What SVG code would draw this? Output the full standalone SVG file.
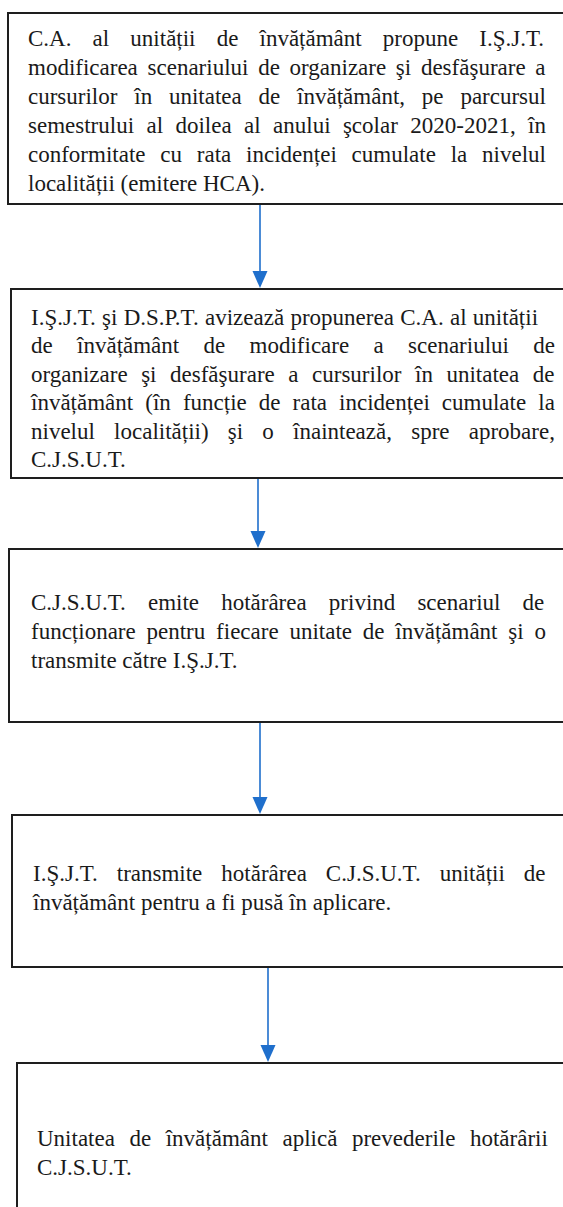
<svg xmlns="http://www.w3.org/2000/svg" width="563" height="1207" viewBox="0 0 563 1207">
<style>
.box{fill:#ffffff;stroke:#1e1e1e;stroke-width:2}
.t{font-family:"Liberation Serif","Times New Roman",serif;font-size:23px;fill:#1a1a1a}
.con{stroke:#1f6fcc;stroke-width:1.6;fill:none}
.head{fill:#1f6fcc}
</style>
<rect width="563" height="1207" fill="#ffffff"/>
<g id="connectors">
<line class="con" x1="260" y1="205" x2="260" y2="272"/>
<path class="head" d="M252.5,271 L267.5,271 L260,288 Z"/>
<line class="con" x1="258" y1="479" x2="258" y2="532"/>
<path class="head" d="M250.5,531 L265.5,531 L258,548 Z"/>
<line class="con" x1="260" y1="723" x2="260" y2="798"/>
<path class="head" d="M252.5,797 L267.5,797 L260,814 Z"/>
<line class="con" x1="268" y1="968" x2="268" y2="1046"/>
<path class="head" d="M260.5,1045 L275.5,1045 L268,1062 Z"/>
</g>
<g id="node1">
<rect class="box" x="8" y="13" width="570" height="191"/>
<text class="t">
<tspan x="28" y="46" word-spacing="15.4">C.A. al unității de învățământ propune I.Ş.J.T.</tspan>
<tspan x="28" y="75" word-spacing="3.95">modificarea scenariului de organizare şi desfăşurare a</tspan>
<tspan x="28" y="104" word-spacing="11.07">cursurilor în unitatea de învățământ, pe parcursul</tspan>
<tspan x="28" y="133" word-spacing="6.65">semestrului al doilea al anului şcolar 2020-2021, în</tspan>
<tspan x="28" y="162" word-spacing="9.05">conformitate cu rata incidenței cumulate la nivelul</tspan>
<tspan x="28" y="191">localității (emitere HCA).</tspan>
</text>
</g>
<g id="node2">
<rect class="box" x="11" y="289" width="570" height="189"/>
<text class="t">
<tspan x="31" y="325" word-spacing="0.56">I.Ş.J.T. şi D.S.P.T. avizează propunerea C.A. al unității</tspan>
<tspan x="31" y="353.4" word-spacing="18.57">de învățământ de modificare a scenariului de</tspan>
<tspan x="31" y="381.8" word-spacing="7.79">organizare şi desfăşurare a cursurilor în unitatea de</tspan>
<tspan x="31" y="410.2" word-spacing="6.32">învățământ (în funcție de rata incidenței cumulate la</tspan>
<tspan x="31" y="438.6" word-spacing="13.45">nivelul localității) şi o înaintează, spre aprobare,</tspan>
<tspan x="31" y="467">C.J.S.U.T.</tspan>
</text>
</g>
<g id="node3">
<rect class="box" x="9" y="549" width="570" height="173"/>
<text class="t">
<tspan x="31" y="610" word-spacing="16.39">C.J.S.U.T. emite hotărârea privind scenariul de</tspan>
<tspan x="31" y="639" word-spacing="5.05">funcționare pentru fiecare unitate de învățământ şi o</tspan>
<tspan x="31" y="668">transmite către I.Ş.J.T.</tspan>
</text>
</g>
<g id="node4">
<rect class="box" x="12" y="815" width="570" height="152"/>
<text class="t">
<tspan x="33" y="881" word-spacing="13.25">I.Ş.J.T. transmite hotărârea C.J.S.U.T. unității de</tspan>
<tspan x="33" y="910">învățământ pentru a fi pusă în aplicare.</tspan>
</text>
</g>
<g id="node5">
<rect class="box" x="17" y="1063" width="570" height="170"/>
<text class="t">
<tspan x="37" y="1146" word-spacing="8.81">Unitatea de învățământ aplică prevederile hotărârii</tspan>
<tspan x="37" y="1175">C.J.S.U.T.</tspan>
</text>
</g>
</svg>
